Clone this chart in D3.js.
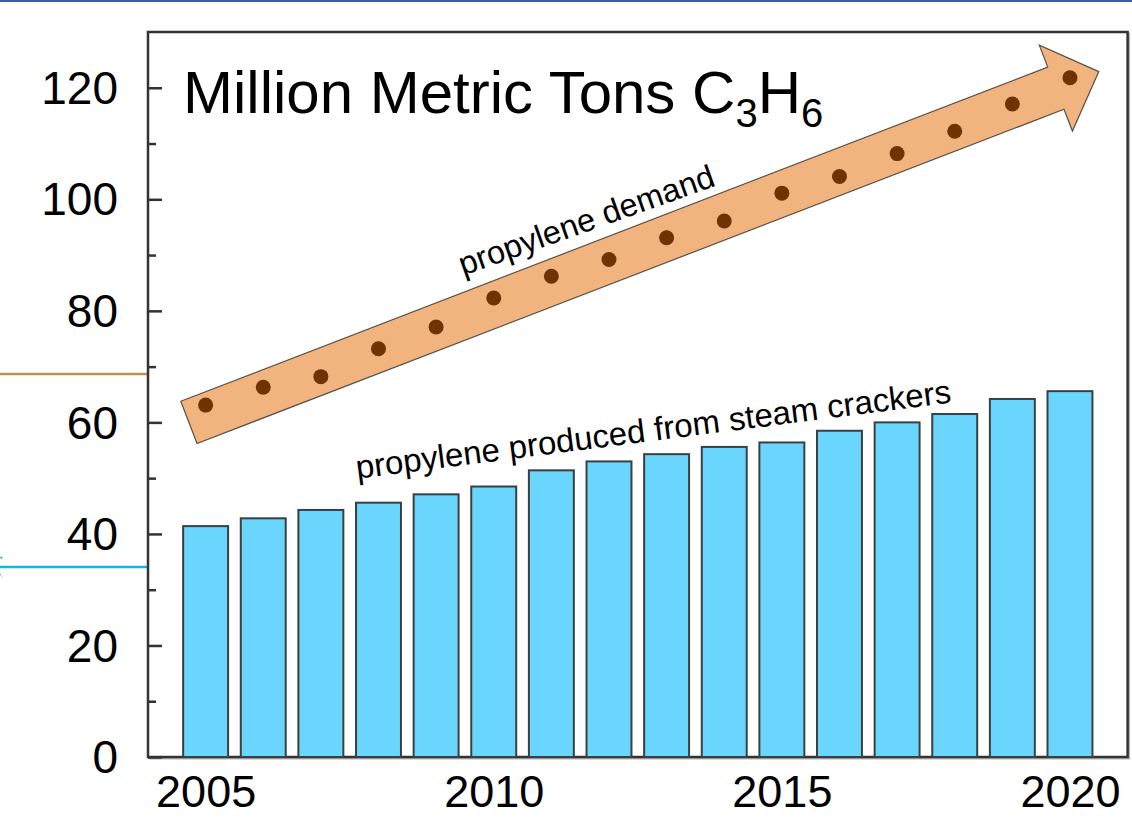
<!DOCTYPE html>
<html>
<head>
<meta charset="utf-8">
<script src="https://cdn.jsdelivr.net/npm/d3@7"></script>
<style>
  body { margin: 0; background: #fff; }
  svg { display: block; }
  text { font-family: "Liberation Sans", Arial, Helvetica, sans-serif; fill: #000; }
</style>
</head>
<body>
<svg id="chart" width="1132" height="818"></svg>
<script>
// Propylene: steam-cracker output (bars) vs. total demand (dots), million metric tons
const years = [2005, 2006, 2007, 2008, 2009, 2010, 2011, 2012, 2013, 2014, 2015, 2016, 2017, 2018, 2019, 2020];
const crackerOutput = [41.4, 42.8, 44.3, 45.6, 47.1, 48.5, 51.4, 53.0, 54.3, 55.6, 56.4, 58.5, 60.0, 61.5, 64.2, 65.6];
const demand = [63.1, 66.3, 68.2, 73.2, 77.1, 82.3, 86.2, 89.2, 93.1, 96.1, 101.1, 104.1, 108.2, 112.2, 117.1, 121.8];
const yTicks = [0, 20, 40, 60, 80, 100, 120];
const yMinorTicks = [10, 30, 50, 70, 90, 110];
const xTicks = [2005, 2010, 2015, 2020];
// trend arrow, tail and tip in data units
const trendFrom = [2004.71, 60.0];
const trendTo = [2020.5, 122.9];
const demandLabelAt = [2009.47, 86.3];
const outputLabelAt = [2007.63, 49.9];

const svg = d3.select("#chart");
const plot = { left: 148, right: 1127.6, top: 32, bottom: 757 };

const x = d3.scaleLinear().domain([2004, 2021]).range([plot.left, plot.right]);
const y = d3.scaleLinear().domain([0, 130]).range([plot.bottom, plot.top]);
const barWidth = x(2004.78) - x(2004);

// slide decorations around the chart
svg.append("line").attr("x1", 0).attr("x2", 1132).attr("y1", 1).attr("y2", 1)
  .attr("stroke", "#3f5e9c").attr("stroke-width", 2);
svg.append("line").attr("x1", 0).attr("x2", 162).attr("y1", 374).attr("y2", 374)
  .attr("stroke", "#c0904f").attr("stroke-width", 2.5);
svg.append("line").attr("x1", 0).attr("x2", 164).attr("y1", 567).attr("y2", 567)
  .attr("stroke", "#1cb0ea").attr("stroke-width", 2.5);
svg.append("path").attr("d", "M2,557 L-8,567 L2,577")
  .attr("fill", "none").attr("stroke", "#1cb0ea").attr("stroke-width", 2).attr("stroke-dasharray", "2,2");

// plot frame with a soft shadow
svg.append("rect")
  .attr("x", plot.left + 1.5).attr("y", plot.top + 1.5)
  .attr("width", plot.right - plot.left).attr("height", plot.bottom - plot.top)
  .attr("fill", "none").attr("stroke", "#b5b5b5").attr("stroke-width", 2);
svg.append("rect")
  .attr("x", plot.left).attr("y", plot.top)
  .attr("width", plot.right - plot.left).attr("height", plot.bottom - plot.top)
  .attr("fill", "#fff").attr("stroke", "#333").attr("stroke-width", 2.5);

// bars
svg.append("g").selectAll("rect")
  .data(years.map((yr, i) => ({ yr, v: crackerOutput[i] })))
  .join("rect")
  .attr("x", d => x(d.yr) - barWidth / 2)
  .attr("y", d => y(d.v))
  .attr("width", barWidth)
  .attr("height", d => y(0) - y(d.v))
  .attr("fill", "#6bd6fd")
  .attr("stroke", "#3a3f42")
  .attr("stroke-width", 2);

// trend arrow
(function drawArrow() {
  const sx = x(trendFrom[0]), sy = y(trendFrom[1]);
  const tx = x(trendTo[0]), ty = y(trendTo[1]);
  const len = Math.hypot(tx - sx, ty - sy);
  const ux = (tx - sx) / len, uy = (ty - sy) / len;
  const nx = -uy, ny = ux;
  const shaftHalf = 22.6, headHalf = 46, headLen = 46;
  const hx = tx - ux * headLen, hy = ty - uy * headLen;
  const pts = [
    [sx - nx * shaftHalf, sy - ny * shaftHalf],
    [hx - nx * shaftHalf, hy - ny * shaftHalf],
    [hx - nx * headHalf, hy - ny * headHalf],
    [tx, ty],
    [hx + nx * headHalf, hy + ny * headHalf],
    [hx + nx * shaftHalf, hy + ny * shaftHalf],
    [sx + nx * shaftHalf, sy + ny * shaftHalf]
  ];
  svg.append("path")
    .attr("d", d3.line()(pts) + "Z")
    .attr("fill", "#f2b47f")
    .attr("stroke", "#5a5048")
    .attr("stroke-width", 1.2)
    .attr("stroke-linejoin", "miter");
})();

// demand dots
svg.append("g").selectAll("circle")
  .data(years.map((yr, i) => ({ yr, v: demand[i] })))
  .join("circle")
  .attr("cx", d => x(d.yr))
  .attr("cy", d => y(d.v))
  .attr("r", 7.5)
  .attr("fill", "#6e3300");

// y axis: major ticks with labels, minor ticks inward
const yAxis = svg.append("g")
  .attr("transform", `translate(${plot.left},0)`)
  .call(d3.axisLeft(y).tickValues(yTicks).tickSizeInner(-14).tickSizeOuter(0).tickPadding(30));
yAxis.select(".domain").remove();
yAxis.selectAll(".tick line").attr("stroke", "#333").attr("stroke-width", 2.5);
yAxis.selectAll(".tick text").attr("font-size", 46).attr("font-family", "Liberation Sans, Arial, sans-serif").attr("fill", "#000").attr("dy", "0.34em");

const yMinor = svg.append("g")
  .attr("transform", `translate(${plot.left},0)`)
  .call(d3.axisLeft(y).tickValues(yMinorTicks).tickSizeInner(-8).tickSizeOuter(0).tickFormat(""));
yMinor.select(".domain").remove();
yMinor.selectAll(".tick line").attr("stroke", "#333").attr("stroke-width", 2.5);

// x axis labels
const xAxis = svg.append("g")
  .attr("transform", `translate(0,${plot.bottom})`)
  .call(d3.axisBottom(x).tickValues(xTicks).tickFormat(d3.format("d")).tickSizeInner(0).tickSizeOuter(0).tickPadding(18));
xAxis.select(".domain").remove();
xAxis.selectAll(".tick text").attr("font-size", 45).attr("font-family", "Liberation Sans, Arial, sans-serif").attr("fill", "#000");

// title with chemical formula
const title = svg.append("text").attr("x", 183).attr("y", 113).attr("font-size", 60);
title.append("tspan").text("Million Metric Tons C");
title.append("tspan").attr("font-size", 40).attr("dy", 14).text("3");
title.append("tspan").attr("dy", -14).text("H");
title.append("tspan").attr("font-size", 40).attr("dy", 14).text("6");

// series labels along the marks
const angle = Math.atan2(y(trendTo[1]) - y(trendFrom[1]), x(trendTo[0]) - x(trendFrom[0])) * 180 / Math.PI;
svg.append("text")
  .attr("transform", `translate(${x(demandLabelAt[0])},${y(demandLabelAt[1])}) rotate(${angle + 1.5})`)
  .attr("font-size", 32.5)
  .attr("fill", "#111")
  .text("propylene demand");

svg.append("text")
  .attr("transform", `translate(${x(outputLabelAt[0])},${y(outputLabelAt[1])}) rotate(-7.3)`)
  .attr("font-size", 33)
  .attr("fill", "#111")
  .text("propylene produced from steam crackers");
</script>
</body>
</html>
